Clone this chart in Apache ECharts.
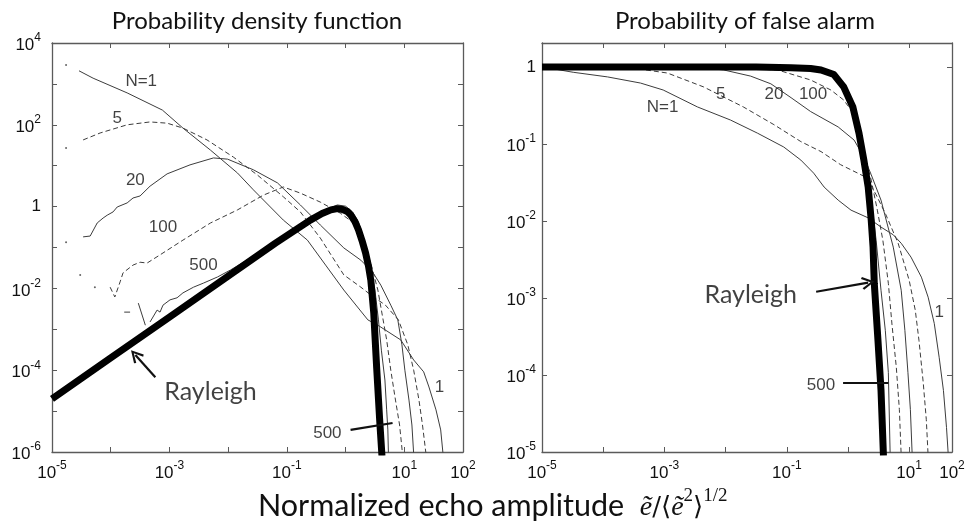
<!DOCTYPE html>
<html><head><meta charset="utf-8">
<script src="https://cdn.jsdelivr.net/npm/echarts@6/dist/echarts.min.js"></script>
<style>html,body{margin:0;padding:0;background:#fff}#c{width:971px;height:523px}</style>
</head><body><div id="c"></div>
<script>
// All values below are log10 of the plotted quantities (axes are drawn in decades).
// ---- Left panel: probability density function ----
const pdfRayleigh = [[-5,-4.70],[-4,-3.70],[-3,-2.70],[-2,-1.70],[-1.2,-0.90],[-0.8,-0.52],[-0.6,-0.33],[-0.4,-0.17],[-0.25,-0.08],[-0.14,-0.05],[-0.05,-0.07],[0.03,-0.12],[0.09,-0.21],[0.16,-0.37],[0.22,-0.57],[0.28,-0.83],[0.34,-1.13],[0.39,-1.45],[0.43,-1.80],[0.48,-2.60],[0.53,-3.95],[0.58,-5.2],[0.62,-6.1]];
const pdfN1 = [[-4.54,3.32],[-4.30,3.14],[-3.72,2.78],[-3.12,2.36],[-2.77,1.92],[-2.30,1.38],[-1.84,0.82],[-1.57,0.41],[-1.06,-0.33],[-0.65,-0.82],[-0.34,-1.43],[-0.03,-2.04],[0.38,-2.77],[0.55,-2.90],[0.94,-3.26],[1.16,-3.75],[1.33,-4.04],[1.42,-4.41],[1.54,-4.97],[1.62,-5.46],[1.66,-6.05]];
const pdfN5 = [[-4.47,1.63],[-4.18,1.80],[-3.72,2.00],[-3.33,2.07],[-3.04,2.04],[-2.77,1.92],[-2.36,1.63],[-1.91,1.21],[-1.50,0.77],[-1.06,0.24],[-0.77,-0.13],[-0.43,-0.77],[-0.03,-1.67],[0.26,-1.97],[0.43,-2.16],[0.68,-2.41],[0.90,-2.77],[1.06,-3.38],[1.16,-4.00],[1.25,-4.73],[1.31,-5.34],[1.37,-6.05]];
const pdfN20 = [[-4.47,-0.74],[-4.35,-0.72],[-4.23,-0.40],[-4.13,-0.28],[-4.06,-0.21],[-3.96,-0.13],[-3.89,-0.01],[-3.72,0.09],[-3.62,0.21],[-3.50,0.26],[-3.33,0.50],[-3.04,0.80],[-2.65,1.02],[-2.25,1.19],[-2.01,1.16],[-1.57,0.90],[-1.16,0.58],[-0.77,0.04],[-0.43,-0.45],[-0.03,-1.01],[0.26,-1.31],[0.46,-1.60],[0.60,-1.92],[0.77,-2.41],[0.89,-2.77],[0.96,-3.38],[1.01,-4.00],[1.08,-4.73],[1.13,-5.34],[1.16,-6.05]];
const pdfN100 = [[-4.01,-1.97],[-3.93,-2.21],[-3.84,-1.84],[-3.79,-1.62],[-3.62,-1.43],[-3.50,-1.36],[-3.38,-1.38],[-3.16,-1.18],[-2.77,-0.82],[-2.30,-0.40],[-1.84,-0.08],[-1.40,0.28],[-1.06,0.48],[-0.77,0.33],[-0.43,0.11],[-0.09,-0.16],[0.12,-0.38],[0.26,-0.69],[0.36,-1.06],[0.46,-1.55],[0.55,-2.04],[0.61,-2.53],[0.70,-3.26],[0.77,-4.00],[0.85,-4.73],[0.92,-5.34],[0.97,-6.05]];
const pdfN500 = [[-3.33,-2.82],[-3.21,-2.53],[-3.16,-2.58],[-3.11,-2.41],[-2.99,-2.28],[-2.87,-2.23],[-2.77,-2.11],[-2.59,-1.97],[-2.42,-1.87],[-2.18,-1.72],[-1.96,-1.55],[-1.74,-1.36],[-1.50,-1.13],[-1.16,-0.82],[-0.82,-0.50],[-0.60,-0.28],[-0.34,-0.08],[-0.14,0.04],[0.00,0.01],[0.12,-0.13],[0.22,-0.38],[0.32,-0.82],[0.41,-1.36],[0.50,-2.04],[0.56,-2.77],[0.61,-3.51],[0.67,-4.24],[0.70,-4.97],[0.72,-5.46],[0.73,-6.05]];
const pdfN500Frag1 = [[-3.77,-2.58],[-3.67,-2.58]];
const pdfN500Frag2 = [[-3.53,-2.36],[-3.41,-2.90]];
const pdfStartDots = [[-4.76,3.46],[-4.76,1.43],[-4.76,-0.87],[-4.52,-1.67],[-4.27,-1.97]];

// ---- Right panel: probability of false alarm ----
const pfaRayleigh = [[-5,0],[-1.5,0],[-0.93,-0.01],[-0.61,-0.02],[-0.44,-0.04],[-0.23,-0.10],[-0.07,-0.26],[0.08,-0.52],[0.18,-0.86],[0.26,-1.21],[0.33,-1.56],[0.38,-1.99],[0.41,-2.34],[0.43,-2.81],[0.49,-3.55],[0.54,-4.20],[0.58,-5.05]];
const pfaN1 = [[-5,0],[-4.49,-0.07],[-3.93,-0.13],[-3.39,-0.21],[-3.02,-0.30],[-2.46,-0.52],[-1.92,-0.69],[-1.48,-0.86],[-1.05,-1.04],[-0.77,-1.21],[-0.56,-1.38],[-0.39,-1.56],[-0.16,-1.73],[0.05,-1.86],[0.33,-1.96],[0.54,-2.08],[0.74,-2.18],[0.87,-2.29],[1.03,-2.47],[1.20,-2.73],[1.31,-2.99],[1.41,-3.33],[1.49,-3.77],[1.56,-4.20],[1.61,-4.68],[1.64,-5.05]];
const pfaN5 = [[-5,0],[-4.05,-0.01],[-3.39,-0.03],[-2.95,-0.08],[-2.36,-0.26],[-1.71,-0.52],[-1.21,-0.75],[-0.77,-0.97],[-0.44,-1.10],[-0.12,-1.27],[0.16,-1.38],[0.31,-1.44],[0.46,-1.66],[0.62,-1.92],[0.82,-2.29],[1.00,-2.77],[1.10,-3.16],[1.16,-3.55],[1.23,-4.10],[1.28,-4.58],[1.31,-5.05]];
const pfaN20 = [[-5,0],[-3.23,0],[-2.41,-0.01],[-2.03,-0.04],[-1.59,-0.12],[-1.26,-0.22],[-0.93,-0.40],[-0.61,-0.58],[-0.16,-0.78],[0.10,-0.95],[0.26,-1.17],[0.38,-1.40],[0.54,-1.73],[0.74,-2.34],[0.87,-2.90],[0.93,-3.42],[0.98,-3.97],[1.02,-4.45],[1.05,-5.05]];
const pfaN100 = [[-5,0],[-2.4,0],[-1.15,-0.04],[-0.61,-0.17],[-0.28,-0.30],[-0.07,-0.43],[0.05,-0.56],[0.13,-0.75],[0.25,-1.08],[0.38,-1.47],[0.48,-1.86],[0.57,-2.25],[0.66,-2.81],[0.72,-3.35],[0.79,-3.90],[0.84,-4.45],[0.87,-5.05]];
const pfaN500 = [[-5,0],[-0.77,0],[-0.44,-0.03],[-0.20,-0.14],[-0.03,-0.32],[0.10,-0.56],[0.20,-0.88],[0.28,-1.21],[0.34,-1.53],[0.41,-1.92],[0.46,-2.25],[0.54,-2.90],[0.61,-3.42],[0.66,-3.97],[0.69,-5.05]];

// ---- Axes (decades) ----
const leftXRange = [-5, 2], leftYRange = [-6, 4];
const rightXRange = [-5, 1.7], rightYRange = [-5, 0.31];
const leftXTickLabels = [-5, -3, -1, 1, 2];
const leftYTickLabels = [-6, -4, -2, 0, 2, 4];
const rightXTickLabels = [-5, -3, -1, 1];
const rightXEndLabel = 2;   // label printed at the right end of the right panel's x axis
const rightYTickLabels = [-5, -4, -3, -2, -1, 0];

// ---- Annotations (positions in decades) ----
const pdfLabels = [['N=1',-3.48,3.07],['5',-3.89,2.17],['20',-3.58,0.65],['100',-3.11,-0.50],['500',-2.42,-1.43],['1',1.60,-4.41],['500',-0.31,-5.54]];
const pdfBigLabels = [['Rayleigh',-2.30,-4.53]];
const pdfArrows = [[[-3.24,-4.17],[-3.58,-3.63]]];
const pdfPointers = [[[0.085,-5.46],[0.80,-5.29]]];
const pfaLabels = [['N=1',-3.03,-0.52],['5',-2.08,-0.35],['20',-1.21,-0.35],['100',-0.57,-0.35],['1',1.49,-3.19],['500',-0.44,-4.14]];
const pfaBigLabels = [['Rayleigh',-1.59,-2.96]];
const pfaArrows = [[[-0.52,-2.92],[0.33,-2.80]]];
const pfaPointers = [[[-0.08,-4.10],[0.66,-4.10]]];

const LF = '"Liberation Sans", Arial, sans-serif';
const TF = 'Lato, "Open Sans", sans-serif';
const THIN = '#3c3c3c';
const AX = '#5a5a5a';

const rich = {
  b: {fontSize: 17, fontFamily: LF, color: '#111', lineHeight: 17, verticalAlign: 'bottom'},
  s: {fontSize: 12, fontFamily: LF, color: '#111', verticalAlign: 'top', padding: [0,0,10,0]}
};
function decadeLabel(v) {
  if (Math.abs(v) < 1e-9) return '{b|1}';
  return '{b|10}{s|' + v + '}';
}
function makeFmt(list, endVal, endLabel) {
  return function (v) {
    if (endVal !== undefined && Math.abs(v - endVal) < 1e-6) return decadeLabel(endLabel);
    for (const t of list) if (Math.abs(v - t) < 1e-6) return decadeLabel(t);
    return '';
  };
}
function axisBase(grid, range) {
  return {type: 'value', gridIndex: grid, min: range[0], max: range[1], interval: 1,
    splitLine: {show: false}, axisLine: {show: true, onZero: false, lineStyle: {color: AX, width: 1.3}},
    axisTick: {show: true, inside: true, length: 5, lineStyle: {color: AX, width: 1}}};
}
function xAxes(grid, range, fmt) {
  return [
    Object.assign(axisBase(grid, range), {position: 'bottom', axisLabel: {show: true, interval: 0, margin: 8, showMinLabel: true, showMaxLabel: true, formatter: fmt, rich: rich}}),
    Object.assign(axisBase(grid, range), {position: 'top', axisLabel: {show: false}})
  ];
}
function yAxes(grid, range, fmt, margin) {
  return [
    Object.assign(axisBase(grid, range), {position: 'left', axisLabel: {show: true, interval: 0, margin: margin, showMinLabel: true, showMaxLabel: true, formatter: fmt, rich: rich}}),
    Object.assign(axisBase(grid, range), {position: 'right', axisLabel: {show: false}})
  ];
}
function line(data, g, opt) {
  opt = opt || {};
  return {type: 'line', xAxisIndex: 2*g, yAxisIndex: 2*g, data: data, symbol: 'none', showSymbol: false,
    silent: true, z: opt.z || 2, lineStyle: {color: opt.color || THIN, width: opt.width || 1, type: opt.dash ? [5,3] : 'solid', cap: 'butt', join: 'round'}};
}
const chevron = 'path://M5,0 L10,9 L8.6,10 L5,3.2 L1.4,10 L0,9 Z';
function annot(g, small, big, arrows, pointers) {
  const lab = {type: 'scatter', xAxisIndex: 2*g, yAxisIndex: 2*g, symbolSize: 1, silent: true, z: 5,
    itemStyle: {color: 'rgba(0,0,0,0)'},
    data: small.map(a => ({name: a[0], value: [a[1], a[2]]})),
    label: {show: true, position: 'inside', formatter: '{b}', fontSize: 17, fontFamily: LF, color: '#111'}};
  const labBig = {type: 'scatter', xAxisIndex: 2*g, yAxisIndex: 2*g, symbolSize: 1, silent: true, z: 5,
    itemStyle: {color: 'rgba(0,0,0,0)'},
    data: big.map(a => ({name: a[0], value: [a[1], a[2]]})),
    label: {show: true, position: 'inside', formatter: '{b}', fontSize: 25, fontFamily: TF, color: '#111'},
    markLine: {silent: true, animation: false, label: {show: false},
      data: arrows.map(a => [{coord: a[0], symbol: 'none'}, {coord: a[1], symbol: chevron, symbolSize: [13, 13]}])
        .concat(pointers.map(a => [{coord: a[0], symbol: 'none'}, {coord: a[1], symbol: 'none'}])),
      lineStyle: {color: '#111', width: 2.2, type: 'solid'}, symbol: ['none', 'none']}};
  return [lab, labBig];
}

const series = [
  line(pdfN1, 0), line(pdfN5, 0, {dash: true}), line(pdfN20, 0), line(pdfN100, 0, {dash: true}), line(pdfN500, 0),
  line(pdfN500Frag1, 0), line(pdfN500Frag2, 0),
  {type: 'scatter', xAxisIndex: 0, yAxisIndex: 0, data: pdfStartDots, symbolSize: 2, itemStyle: {color: THIN}, silent: true},
  line(pdfRayleigh, 0, {color: '#000', width: 7, z: 3}),
  line(pfaN1, 1), line(pfaN5, 1, {dash: true}), line(pfaN20, 1), line(pfaN100, 1, {dash: true}), line(pfaN500, 1),
  line(pfaRayleigh, 1, {color: '#000', width: 7, z: 3})
].concat(annot(0, pdfLabels, pdfBigLabels, pdfArrows, pdfPointers))
 .concat(annot(1, pfaLabels, pfaBigLabels, pfaArrows, pfaPointers));

const chart = echarts.init(document.getElementById('c'), null, {renderer: 'canvas'});
chart.setOption({
  animation: false,
  backgroundColor: '#fff',
  grid: [
    {left: 52, right: 971 - 463, top: 43, bottom: 523 - 452},
    {left: 542, right: 971 - 952, top: 43, bottom: 523 - 452}
  ],
  xAxis: xAxes(0, leftXRange, makeFmt(leftXTickLabels)).concat(xAxes(1, rightXRange, makeFmt(rightXTickLabels, rightXRange[1], rightXEndLabel))),
  yAxis: yAxes(0, leftYRange, makeFmt(leftYTickLabels), 11).concat(yAxes(1, rightYRange, makeFmt(rightYTickLabels), 6)),
  series: series,
  graphic: [
    {type: 'text', x: 257, y: 21, style: {text: 'Probability density function', font: '24px ' + TF, fill: '#111', align: 'center', verticalAlign: 'middle'}},
    {type: 'text', x: 745, y: 21, style: {text: 'Probability of false alarm', font: '24px ' + TF, fill: '#111', align: 'center', verticalAlign: 'middle'}},
    {type: 'text', x: 258, y: 504, style: {
      text: '{n|Normalized echo amplitude  }{mi|ẽ}{mu|/⟨}{mi|ẽ}{sp|2}{mu|⟩}{sp|1/2}',
      align: 'left', verticalAlign: 'middle',
      rich: {
        n: {fontSize: 30.5, fontFamily: TF, fill: '#111', lineHeight: 29, verticalAlign: 'bottom'},
        mi: {fontSize: 28, fontFamily: '"Liberation Serif", "DejaVu Serif", serif', fontStyle: 'italic', fill: '#111', lineHeight: 29, verticalAlign: 'bottom'},
        mu: {fontSize: 26, fontFamily: '"DejaVu Serif", "Liberation Serif", serif', fill: '#111', lineHeight: 29, verticalAlign: 'bottom'},
        sp: {fontSize: 19, fontFamily: '"Liberation Serif", "DejaVu Serif", serif', fill: '#111', verticalAlign: 'top', padding: [0, 0, 16, 0]}
      }
    }}
  ]
});
</script></body></html>
